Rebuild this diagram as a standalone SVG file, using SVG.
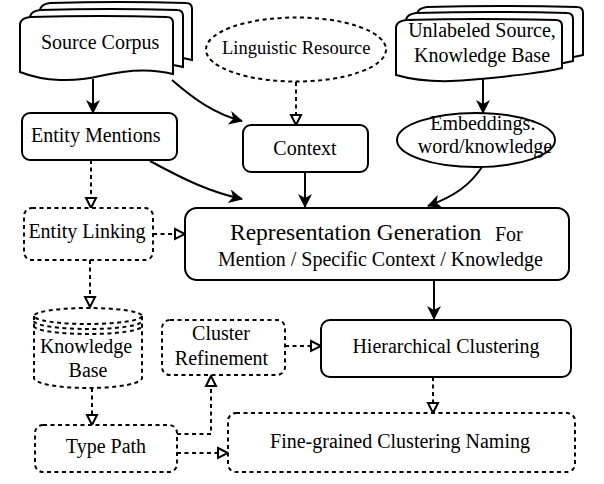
<svg xmlns="http://www.w3.org/2000/svg" width="604" height="484" viewBox="0 0 604 484">
<style>
.n{fill:#fff;stroke:#000;stroke-width:2}
.d{fill:#fff;stroke:#000;stroke-width:2;stroke-dasharray:4 3.5}
.dn{fill:none;stroke:#000;stroke-width:2;stroke-dasharray:4 3.5}
.t{font-family:"Liberation Serif","Times New Roman",serif;font-size:20px;fill:#000}
.c{stroke:#000;stroke-width:2;fill:none}
.cs{marker-end:url(#sa)}
.cd{stroke-dasharray:4 3.5;marker-end:url(#ha)}
</style>
<defs>
<marker id="sa" markerUnits="userSpaceOnUse" markerWidth="14" markerHeight="14" viewBox="0 0 14 14" refX="13" refY="7" orient="auto">
<path d="M0,0 L14,7 L0,14 L4,7 Z" fill="#000"/>
</marker>
<marker id="ha" markerUnits="userSpaceOnUse" markerWidth="14" markerHeight="14" viewBox="0 0 14 14" refX="12" refY="7" orient="auto">
<path d="M2,2 L12,7 L2,12 Z" fill="#fff" stroke="#000" stroke-width="2"/>
</marker>
</defs>
<g id="connectors">
<path class="c cs" d="M93,79 L93,113"/>
<path class="c cs" d="M172,80 C195,100 215,114 242,121"/>
<path class="c cd" d="M296,82 L296,125"/>
<path class="c cs" d="M483,78 L483,113"/>
<path class="c cs" d="M150,161 C185,180 210,192 242,199"/>
<path class="c cs" d="M305,172 L305,207"/>
<path class="c cs" d="M482,167 C470,185 455,196 428,206"/>
<path class="c cd" d="M91,160 L91,208"/>
<path class="c cd" d="M153,234 L185,234"/>
<path class="c cd" d="M90,260 L90,307"/>
<path class="c cs" d="M434,281 L434,319"/>
<path class="c cd" d="M285,346 L321,346"/>
<path class="c cd" d="M433,377 L433,413"/>
<path class="c cd" d="M92,388 L92,425"/>
<path class="c cd" d="M177,434 L211,434 L211,376"/>
<path class="c cd" d="M177,453 L228,453"/>
</g>
<g id="source-corpus">
<path class="n" d="M40,59 L40,10 Q41,4 50,3 Q120,1 186,3 Q192,3 192,9 L192,60 C170,54 145,56 120,62 C95,68 65,68 40,59 Z"/>
<path class="n" d="M30,66 L30,17 Q31,11 40,10 Q110,8 177,10 Q183,10 183,16 L183,67 C160,61 135,63 110,69 C85,75 55,75 30,66 Z"/>
<path class="n" d="M20,72 L20,24 Q21,18 30,17 Q100,15 167,17 Q173,17 173,23 L173,74 C150,68 125,70 100,76 C75,82 45,82 20,72 Z"/>
<text class="t" x="41" y="49">Source Corpus</text>
</g>
<g id="linguistic-resource">
<ellipse class="d" cx="296" cy="49.5" rx="90" ry="32"/>
<text class="t" x="222" y="54" style="font-size:18.5px">Linguistic Resource</text>
</g>
<g id="unlabeled-source">
<path class="n" d="M417,55 L417,14 Q418,8 427,7 Q500,5 577,7 Q583,7 583,13 L583,55 C560,60 540,62 500,66 C465,70 440,69 417,62 Z"/>
<path class="n" d="M406,62 L406,20 Q407,14 416,13 Q490,11 567,13 Q573,13 573,19 L573,61 C550,66 530,68 490,72 C455,76 430,75 406,68 Z"/>
<path class="n" d="M396,75 L396,27 Q397,21 406,20 Q480,18 556,20 Q562,20 562,26 L562,68 C540,73 520,75 480,79 C445,83 420,82 396,75 Z"/>
<text class="t" x="482" y="37" text-anchor="middle">Unlabeled Source,</text>
<text class="t" x="482" y="62" text-anchor="middle">Knowledge Base</text>
</g>
<g id="entity-mentions">
<rect class="n" x="22" y="113" width="155" height="47" rx="8"/>
<text class="t" x="31" y="142">Entity Mentions</text>
</g>
<g id="context">
<rect class="n" x="243" y="125" width="125" height="47" rx="8"/>
<text class="t" x="305" y="155" text-anchor="middle">Context</text>
</g>
<g id="embeddings">
<ellipse class="n" cx="476" cy="140" rx="79" ry="27"/>
<text class="t" x="483" y="130" text-anchor="middle">Embeddings:</text>
<text class="t" x="485" y="153" text-anchor="middle">word/knowledge</text>
</g>
<g id="representation-generation">
<rect class="n" x="185" y="208" width="384" height="72" rx="12"/>
<text class="t" x="230" y="240" style="font-size:23.5px">Representation Generation</text>
<text class="t" x="495" y="241">For</text>
<text class="t" x="218" y="266">Mention / Specific Context / Knowledge</text>
</g>
<g id="entity-linking">
<rect class="d" x="24" y="208" width="129" height="52" rx="8"/>
<text class="t" x="87" y="238" text-anchor="middle">Entity Linking</text>
</g>
<g id="knowledge-base">
<path class="d" d="M34,316 L34,378 A54,10 0 0 0 142,378 L142,316"/>
<ellipse class="dn" cx="88" cy="316" rx="54" ry="8"/>
<path class="dn" d="M34,321 A54,8 0 0 0 142,321"/>
<path class="dn" d="M34,326 A54,8 0 0 0 142,326"/>
<text class="t" x="86" y="353" text-anchor="middle">Knowledge</text>
<text class="t" x="88" y="377" text-anchor="middle">Base</text>
</g>
<g id="cluster-refinement">
<rect class="d" x="162" y="320" width="123" height="55" rx="8"/>
<text class="t" x="221" y="340" text-anchor="middle">Cluster</text>
<text class="t" x="221.5" y="365" text-anchor="middle">Refinement</text>
</g>
<g id="hierarchical-clustering">
<rect class="n" x="321" y="320" width="250" height="57" rx="9"/>
<text class="t" x="446" y="353" text-anchor="middle">Hierarchical Clustering</text>
</g>
<g id="type-path">
<rect class="d" x="35" y="425" width="142" height="47" rx="8"/>
<text class="t" x="106" y="453" text-anchor="middle">Type Path</text>
</g>
<g id="fine-grained">
<rect class="d" x="228" y="413" width="347" height="59" rx="8"/>
<text class="t" x="400" y="448" text-anchor="middle">Fine-grained Clustering Naming</text>
</g>
</svg>
